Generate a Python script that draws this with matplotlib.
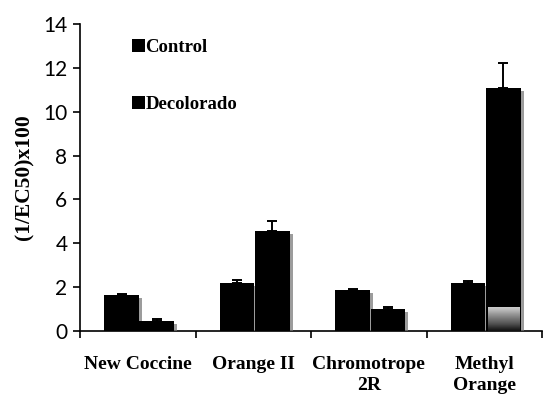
import numpy as np
import matplotlib
matplotlib.use("Agg")
import matplotlib.pyplot as plt
import matplotlib.patheffects as pe
from matplotlib.patches import Patch

# values
categories = ["New Coccine", "Orange II", "Chromotrope\n2R", "Methyl\nOrange"]
control = [1.64, 2.19, 1.87, 2.19]
control_err = [0.06, 0.12, 0.05, 0.11]
decolorado = [0.47, 4.56, 1.02, 11.1]
decolorado_err = [0.08, 0.45, 0.06, 1.13]

serif = "Liberation Serif"

fig = plt.figure(figsize=(5.43, 3.94), dpi=100)
ax = fig.add_axes([0.1473, 0.16, 0.851, 0.779])

x = np.arange(len(categories))
w = 0.30
shadow = [pe.SimplePatchShadow(offset=(2.2, -2.2), shadow_rgbFace="0.45", alpha=0.7), pe.Normal()]

b1 = ax.bar(x - 0.14, control, w, color="black", zorder=3)
b2 = ax.bar(x + 0.165, decolorado, w, color="black", zorder=3)
for b in list(b1) + list(b2):
    b.set_path_effects(shadow)

ax.errorbar(x - 0.14, control, yerr=[np.zeros(4), control_err], fmt="none",
            ecolor="black", elinewidth=1.4, capsize=3.5, capthick=1.4, zorder=2)
ax.errorbar(x + 0.165, decolorado, yerr=[np.zeros(4), decolorado_err], fmt="none",
            ecolor="black", elinewidth=1.4, capsize=3.5, capthick=1.4, zorder=2)

# greyish gradient at the foot of the last bar
last = b2[-1]
grad = np.linspace(1, 0, 50).reshape(-1, 1)
ax.imshow(grad, cmap="Greys_r", vmin=-0.1, vmax=1.5, aspect="auto",
          extent=[last.get_x() + 0.02, last.get_x() + w - 0.01, 0.02, 1.1], zorder=4)

ax.set_xlim(-0.5, 3.5)
ax.set_ylim(0, 14)
ax.set_yticks(range(0, 15, 2))
ax.tick_params(axis="y", labelsize=15, direction="out", length=5, width=1.2, pad=4)
for t in ax.get_yticklabels():
    t.set_family("Lato")

ax.set_xticks(np.arange(-0.5, 3.6, 1.0))
ax.set_xticklabels([])
ax.tick_params(axis="x", direction="out", length=5, width=1.2)
for i, name in enumerate(categories):
    ax.text(i, -1.15, name, ha="center", va="top", fontsize=14,
            fontweight="bold", family=serif, linespacing=1.3)

ax.spines["top"].set_visible(False)
ax.spines["right"].set_visible(False)
ax.spines["left"].set_linewidth(1.2)
ax.spines["bottom"].set_linewidth(1.2)

ax.set_ylabel("(1/EC50)x100", fontsize=15.5, fontweight="bold", family=serif, labelpad=6)

handles = [Patch(facecolor="black", label="Control"),
           Patch(facecolor="black", label="Decolorado")]
ax.legend(handles=handles, loc="upper left", bbox_to_anchor=(0.075, 1.005), frameon=False,
          handlelength=0.7, handleheight=0.7, handletextpad=0.05, labelspacing=2.1,
          prop={"family": serif, "weight": "bold", "size": 13.5})

fig.savefig("out.png", dpi=100)
